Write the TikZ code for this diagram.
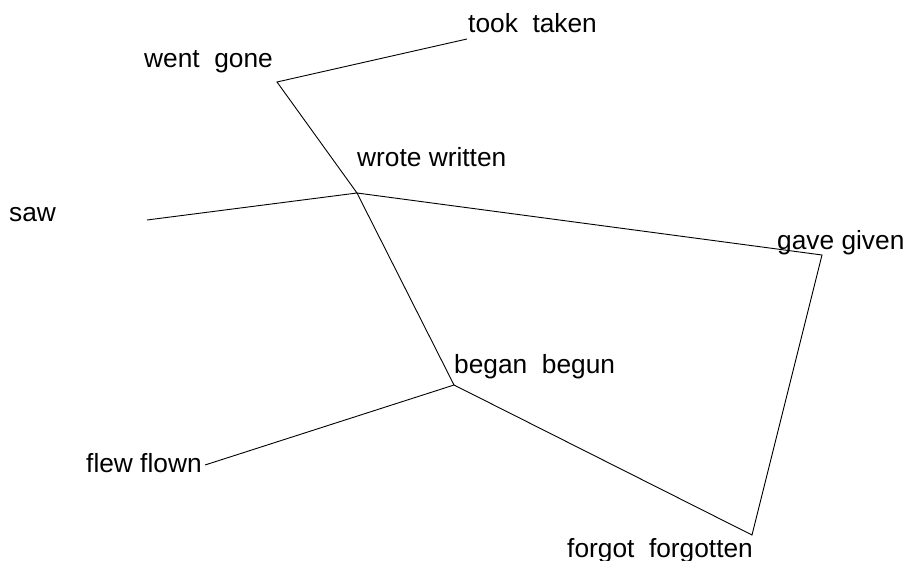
\documentclass[tikz,border=0pt]{standalone}
\usepackage{fontspec}
\setmainfont{Liberation Sans}

\begin{document}
\begin{tikzpicture}[x=1pt, y=-1pt,
    word/.style={anchor=base west, inner sep=0pt, font=\fontsize{26.3}{30}\selectfont},
    link/.style={line width=0.9pt, line join=miter}]
      \useasboundingbox (0, 0) rectangle (909, 561);
      % corner points of the lines
      \coordinate (took) at (467, 39);
      \coordinate (went) at (277, 82);
      \coordinate (wrote) at (357, 193);
      \coordinate (saw) at (147, 220);
      \coordinate (gave) at (822, 255);
      \coordinate (began) at (454, 385);
      \coordinate (flew) at (205, 465);
      \coordinate (forgot) at (752, 535);
      % labels
      \node [word] (tooklbl) at (468, 33) {took\ \ taken};
      \node [word] (wentlbl) at (144, 68) {went\ \ gone};
      \node [word] (wrotelbl) at (357, 167) {wrote written};
      \node [word] (sawlbl) at (9, 222) {saw};
      \node [word] (gavelbl) at (777, 249) {gave given};
      \node [word] (beganlbl) at (454, 373) {began\ \ begun};
      \node [word] (flewlbl) at (86, 472) {flew flown};
      \node [word] (forgotlbl) at (567, 557) {forgot\ \ forgotten};
      \draw [link] (took) -- (went) -- (wrote) -- (saw)
                   (wrote) -- (gave) -- (forgot) -- (began) -- (flew)
                   (wrote) -- (began);
\end{tikzpicture}
\end{document}
